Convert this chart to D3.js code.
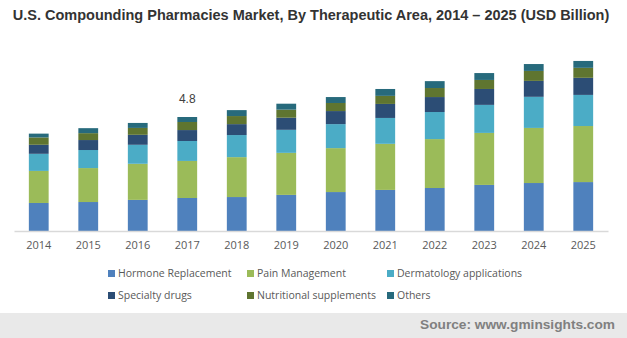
<!DOCTYPE html>
<html><head><meta charset="utf-8">
<script src="https://cdn.jsdelivr.net/npm/d3@7"></script>
<style>body{margin:0;background:#fff}svg{display:block}</style>
</head><body>
<script>
const years = ["2014","2015","2016","2017","2018","2019","2020","2021","2022","2023","2024","2025"];
const seriesNames = ["Hormone Replacement","Pain Management","Dermatology applications","Specialty drugs","Nutritional supplements","Others"];
const hormone   = [1.18,1.22,1.31,1.39,1.43,1.52,1.64,1.73,1.81,1.94,2.02,2.06];
const pain      = [1.35,1.43,1.52,1.56,1.68,1.77,1.85,1.94,2.06,2.19,2.32,2.36];
const derm      = [0.72,0.76,0.80,0.84,0.93,0.97,1.01,1.09,1.14,1.18,1.31,1.31];
const specialty = [0.38,0.42,0.42,0.46,0.46,0.51,0.55,0.59,0.63,0.67,0.67,0.72];
const nutrition = [0.31,0.29,0.29,0.34,0.34,0.34,0.34,0.34,0.38,0.38,0.42,0.42];
const others    = [0.16,0.21,0.21,0.21,0.25,0.25,0.25,0.29,0.29,0.29,0.29,0.29];
const colors = ["#4f81bd","#9bbb59","#4bacc6","#2c4d75","#5f7530","#276a7c"];
const annotation = {year:"2017", label:"4.8"};

const W=627,H=338;
const svg=d3.select("body").append("svg").attr("width",W).attr("height",H);

const keys=["h","p","d","s","n","o"];
const arrs=[hormone,pain,derm,specialty,nutrition,others];
const table=years.map((y,i)=>{const r={year:y};keys.forEach((k,j)=>r[k]=arrs[j][i]);return r;});
const stack=d3.stack().keys(keys)(table);

const x=d3.scaleBand().domain(years).range([14,608]).paddingInner(0.6).paddingOuter(0.3);
const y=d3.scaleLinear().domain([0,4.8]).range([231,117]);

svg.append("text").attr("x",311).attr("y",20).attr("text-anchor","middle")
  .attr("font-family","Liberation Sans, Arial, sans-serif").attr("font-weight","bold")
  .attr("font-size",14.5).attr("fill","#333").text("U.S. Compounding Pharmacies Market, By Therapeutic Area, 2014 – 2025 (USD Billion)");

svg.append("g").selectAll("g").data(stack).join("g").attr("fill",(d,i)=>colors[i])
  .selectAll("rect").data(d=>d).join("rect")
  .attr("x",d=>x(d.data.year)).attr("width",x.bandwidth())
  .attr("y",d=>y(d[1])).attr("height",d=>y(d[0])-y(d[1]));

const ax=svg.append("g").attr("transform","translate(0,231)").call(d3.axisBottom(x).tickSize(0).tickPadding(10));
ax.select(".domain").attr("stroke","#d9d9d9").attr("stroke-width",1.5);
ax.selectAll("text").attr("font-family","Open Sans, sans-serif").attr("font-size",11).attr("fill","#595959");

const ai=years.indexOf(annotation.year);
const tot=d3.sum(arrs,a=>a[ai]);
svg.append("text").attr("x",x(annotation.year)+x.bandwidth()/2).attr("y",y(tot)-14)
  .attr("text-anchor","middle").attr("font-family","Liberation Sans, Arial, sans-serif")
  .attr("font-size",12).attr("fill","#404040").text(annotation.label);

const legX=[108,247,387], legY=[273,295];
const lg=svg.append("g");
seriesNames.forEach((n,i)=>{
  const gx=legX[i%3], gy=legY[Math.floor(i/3)];
  lg.append("rect").attr("x",gx).attr("y",gy-3).attr("width",7).attr("height",7).attr("fill",colors[i]);
  lg.append("text").attr("x",gx+10).attr("y",gy+4).attr("font-family","Open Sans, sans-serif")
    .attr("font-size",10.5).attr("fill","#595959").text(n);
});

svg.append("rect").attr("x",0).attr("y",313).attr("width",W).attr("height",H-313).attr("fill","#e9e9e9");
svg.append("text").attr("x",615).attr("y",329).attr("text-anchor","end")
  .attr("font-family","Liberation Sans, Arial, sans-serif").attr("font-weight","bold")
  .attr("font-size",13.7).attr("fill","#808080").text("Source: www.gminsights.com");
</script>
</body></html>
